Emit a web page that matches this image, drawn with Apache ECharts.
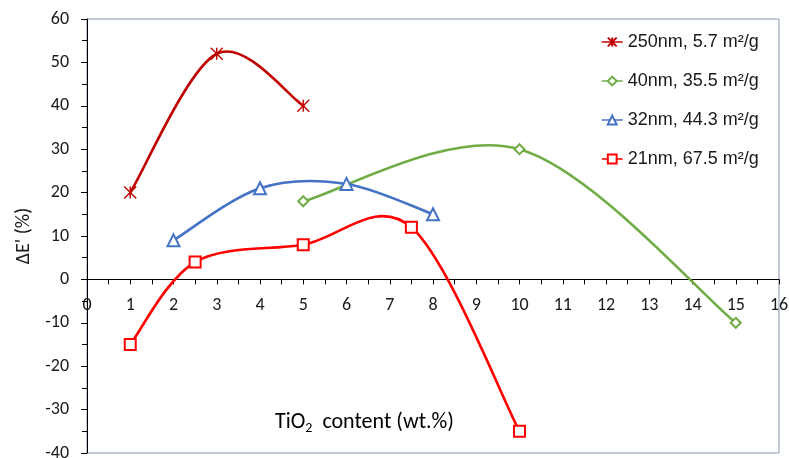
<!DOCTYPE html>
<html>
<head>
<meta charset="utf-8">
<script src="https://cdn.jsdelivr.net/npm/echarts@6/dist/echarts.min.js"></script>
<style>
  html, body { margin: 0; padding: 0; background: #fff; }
  #chart { width: 789px; height: 458px; }
</style>
</head>
<body>
<div id="chart"></div>
<script>
// Modulus change versus TiO2 loading for four particle sizes
const seriesNames = ['250nm, 5.7 m²/g', '40nm, 35.5 m²/g', '32nm, 44.3 m²/g', '21nm, 67.5 m²/g'];
const colors = ['#c00000', '#70ad47', '#4472c4', '#ff0000'];

const tio2_250 = [1, 3, 5];
const dE_250   = [20, 52, 40];

const tio2_40 = [5, 10, 15];
const dE_40   = [18, 30, -10];

const tio2_32 = [2, 4, 6, 8];
const dE_32   = [9, 21, 22, 15];

const tio2_21 = [1, 2.5, 5, 7.5, 10];
const dE_21   = [-15, 4, 8, 12, -35];

const xTicks = { min: 0, max: 16, step: 1 };
const yTicks = { min: -40, max: 60, step: 10 };

const xs = [tio2_250, tio2_40, tio2_32, tio2_21];
const ys = [dE_250, dE_40, dE_32, dE_21];

const starPath = 'path://M0,0L10,10M10,0L0,10M5,0L5,10';
const symbols = [starPath, 'emptyDiamond', 'emptyTriangle', 'emptyRect'];
const symbolSizes = [12, 10, 12, 11];

const tickFont = 'Carlito, Calibri, Lato, sans-serif';

// plot box in pixels
const GRID = { left: 87, right: 10, top: 19, bottom: 5 };
const plotH = 458 - GRID.top - GRID.bottom;
// x axis crosses the y axis at 0: shift it up from the bottom edge
const xAxisOffset = -plotH * (0 - yTicks.min) / (yTicks.max - yTicks.min);

function pairs(i) {
  return xs[i].map((x, k) => [x, ys[i][k]]);
}

// Smoothed curve through the points: cubic Bezier segments with
// Catmull-Rom style control points (tension 1/6), in pixel space.
function smoothCurve(i) {
  return function (params, api) {
    if (params.dataIndex !== 0) return null;
    const pts = pairs(i).map(p => api.coord(p));
    const n = pts.length;
    let d = 'M' + pts[0][0] + ' ' + pts[0][1];
    for (let k = 0; k < n - 1; k++) {
      const p0 = pts[Math.max(k - 1, 0)];
      const p1 = pts[k];
      const p2 = pts[k + 1];
      const p3 = pts[Math.min(k + 2, n - 1)];
      const c1 = [p1[0] + (p2[0] - p0[0]) / 6, p1[1] + (p2[1] - p0[1]) / 6];
      const c2 = [p2[0] - (p3[0] - p1[0]) / 6, p2[1] - (p3[1] - p1[1]) / 6];
      d += ' C' + c1[0] + ' ' + c1[1] + ' ' + c2[0] + ' ' + c2[1] + ' ' + p2[0] + ' ' + p2[1];
    }
    return {
      type: 'path',
      shape: { pathData: d },
      style: { fill: null, stroke: colors[i], lineWidth: 2.6, lineJoin: 'round', lineCap: 'round' }
    };
  };
}

const series = [];
for (let i = 0; i < 4; i++) {
  series.push({
    type: 'custom',
    renderItem: smoothCurve(i),
    data: pairs(i),
    clip: true,
    silent: true,
    z: 2
  });
}
for (let i = 0; i < 4; i++) {
  series.push({
    name: seriesNames[i],
    type: 'line',
    data: pairs(i),
    symbol: symbols[i],
    symbolSize: symbolSizes[i],
    showSymbol: true,
    lineStyle: { color: colors[i], width: 2, opacity: 0 },
    itemStyle: { color: colors[i], borderColor: colors[i], borderWidth: 1.4 },
    emphasis: { disabled: true },
    animation: false,
    z: 3
  });
}

const chart = echarts.init(document.getElementById('chart'), null, { renderer: 'canvas' });
chart.setOption({
  animation: false,
  backgroundColor: '#fff',
  grid: {
    left: GRID.left, right: GRID.right, top: GRID.top, bottom: GRID.bottom,
    outerBoundsMode: 'none',
    containLabel: false,
    show: true, borderColor: '#8496ae', borderWidth: 1, backgroundColor: 'transparent'
  },
  legend: {
    data: seriesNames,
    orient: 'vertical',
    left: 601,
    top: 33,
    padding: 0,
    itemWidth: 21,
    itemHeight: 11,
    itemGap: 21,
    lineStyle: { opacity: 1, width: 1.5 },
    textStyle: { fontFamily: 'Liberation Sans, Arial, sans-serif', fontSize: 18, color: '#1a1a1a' },
    selectedMode: false
  },
  xAxis: {
    type: 'value',
    min: xTicks.min, max: xTicks.max, interval: xTicks.step,
    offset: xAxisOffset,
    axisLine: { onZero: false, lineStyle: { color: '#000', width: 1 } },
    axisTick: { show: true, length: 5, lineStyle: { color: '#000' } },
    minorTick: { show: true, splitNumber: 2, length: 5, lineStyle: { color: '#000' } },
    splitLine: { show: false },
    axisLabel: { color: '#1a1a1a', fontFamily: tickFont, fontSize: 18, margin: 17 }
  },
  yAxis: {
    type: 'value',
    min: yTicks.min, max: yTicks.max, interval: yTicks.step,
    name: 'ΔE\' (%)',
    nameLocation: 'middle',
    nameGap: 43,
    nameRotate: 90,
    nameTextStyle: { fontFamily: tickFont, fontSize: 20, color: '#1a1a1a' },
    axisLine: { show: true, onZero: false, lineStyle: { color: '#000', width: 1 } },
    axisTick: { show: true, length: 6, lineStyle: { color: '#000' } },
    minorTick: { show: true, splitNumber: 2, length: 5, lineStyle: { color: '#000' } },
    splitLine: { show: false },
    axisLabel: { color: '#1a1a1a', fontFamily: tickFont, fontSize: 18, margin: 18 }
  },
  graphic: [{
    type: 'text',
    left: 275,
    top: 411,
    z: 10,
    style: {
      text: '{a|TiO}{s|2}{a|  content (wt.%)}',
      rich: {
        a: { fontFamily: tickFont, fontSize: 22, color: '#1a1a1a', lineHeight: 27 },
        s: { fontFamily: tickFont, fontSize: 14, color: '#1a1a1a', lineHeight: 27, verticalAlign: 'bottom', padding: [10, 0, 0, 0] }
      }
    }
  }],
  series: series
});
</script>
</body>
</html>
